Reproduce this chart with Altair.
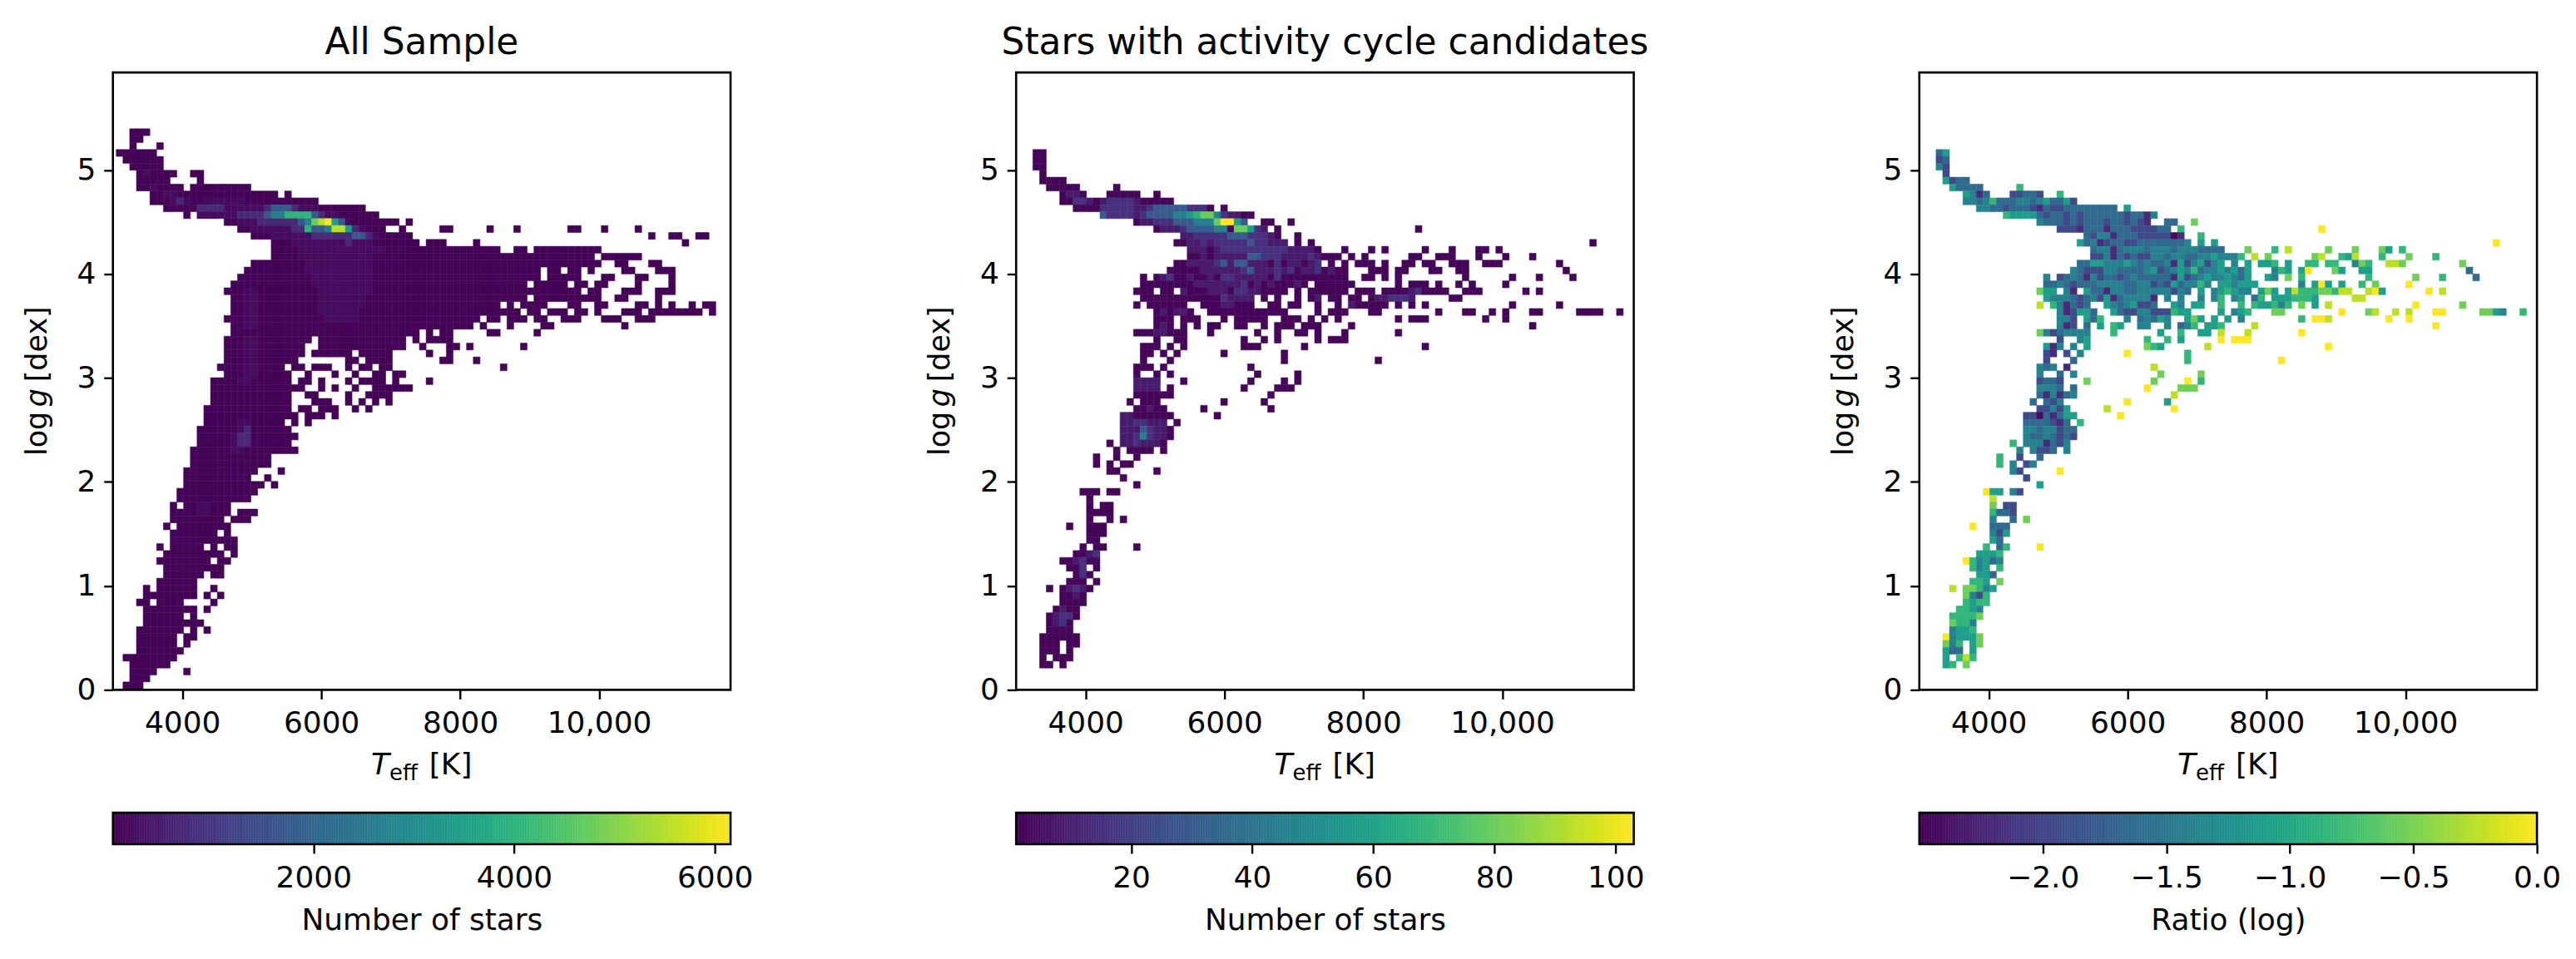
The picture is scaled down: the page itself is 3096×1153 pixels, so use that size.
import altair as alt
import numpy as np
import pandas as pd

FONT = "DejaVu Sans"
TEFF_TICKS = [4000, 6000, 8000, 10000]
LOGG_TICKS = [0, 1, 2, 3, 4, 5]
PANEL_TITLES = ["All Sample", "Stars with activity cycle candidates", ""]
BAR_TITLES = ["Number of stars", "Number of stars", "Ratio (log)"]
BAR_TICKS = [[2000, 4000, 6000], [20, 40, 60, 80, 100], [-2.0, -1.5, -1.0, -0.5, 0.0]]
BAR_DOMAINS = [[1, 6156], [1, 103], [-2.5, 0.0]]
LEVELS_ALL = [30, 170, 700, 1700, 2650, 3400, 4000, 4750, 5500, 6150]
LEVELS_CYCLE = [2, 8, 15, 30, 45, 57, 67, 80, 92, 103]
LEVELS_RATIO = [-2.45, -2.2, -1.95, -1.65, -1.4, -1.1, -0.85, -0.55, -0.25, 0.0]
TEFF_START, TEFF_STEP_ALL, TEFF_STEP_CYCLE = 3047.6, 97.0, 96.6
LOGG_START, LOGG_STEP = 0.01, 0.0665

# occupied Teff bins per logg bin (row: [(first, last), ...]), all-sample histogram
ALL_RUNS = {
80:[(2,4)],79:[(2,3)],78:[(2,2),(6,6)],77:[(0,5)],76:[(1,6)],75:[(2,6)],74:[(3,8),(11,12)],73:[(3,7),(12,12)],
72:[(3,9),(11,19)],71:[(5,23),(25,25)],70:[(5,29)],69:[(7,36)],68:[(10,10),(12,38)],67:[(16,41),(43,43)],
66:[(18,39),(42,42),(48,49),(55,55),(59,59),(67,68),(72,72),(77,77)],65:[(20,43),(79,79),(82,83),(86,87)],
64:[(23,44),(46,48),(53,53),(84,84)],63:[(23,56),(59,60),(62,71)],62:[(23,70),(72,77)],61:[(20,71),(74,75),(79,80)],
60:[(19,62),(64,65),(67,68),(70,70),(75,76),(80,82)],
59:[(18,62),(64,68),(72,73),(77,78),(82,82)],
58:[(17,60),(62,66),(68,69),(71,72),(77,77),(82,82)],
57:[(16,68),(70,71),(75,77),(80,82)],
56:[(17,60),(62,71),(74,75),(80,80)],
55:[(17,56),(58,58),(60,63),(67,68),(71,72),(77,78),(80,80),(82,82),(85,85),(87,88)],
54:[(17,59),(61,62),(64,66),(68,69),(71,71),(75,77),(79,86),(88,88)],
53:[(16,53),(55,56),(58,60),(62,63),(66,68),(72,74),(77,79)],
52:[(17,52),(54,54),(58,58),(63,64),(75,75)],
51:[(17,44),(46,46),(48,49),(55,56),(62,62)],
50:[(16,28),(30,42),(44,44),(46,49)],
49:[(16,27),(30,42),(45,45),(49,50),(52,52),(60,60)],
48:[(16,27),(29,34),(36,40),(46,46),(49,49)],
47:[(16,26),(34,35),(37,40),(48,49),(53,53)],
46:[(15,24),(26,27),(29,31),(34,34),(36,37),(39,40),(57,57)],
45:[(16,25),(28,28),(32,32),(35,35),(38,39),(41,42)],
44:[(14,25),(27,28),(30,30),(34,34),(36,39),(41,41),(46,46)],
43:[(14,27),(30,30),(32,32),(35,35),(38,43)],
42:[(14,25),(28,29),(34,34),(37,40)],
41:[(14,25),(29,31),(34,34),(36,36),(38,38),(40,40)],
40:[(13,25),(27,28),(30,32),(35,35),(37,37)],
39:[(13,26),(28,30),(32,32)],
38:[(13,24),(26,26),(28,28)],
37:[(12,25)],36:[(12,26)],35:[(12,25)],34:[(11,26)],33:[(11,22)],32:[(11,22)],31:[(10,20),(24,24)],
30:[(10,19),(22,22)],29:[(10,21),(23,23)],28:[(9,20)],27:[(9,19)],26:[(8,8),(10,16)],25:[(8,16),(18,20)],
24:[(8,15),(17,19)],23:[(7,7),(9,16)],22:[(8,14),(16,16)],21:[(8,17)],20:[(6,6),(8,12),(14,14),(16,17)],
19:[(7,15),(17,17)],18:[(6,13),(15,16)],17:[(7,15)],16:[(7,12),(14,15)],15:[(6,11)],14:[(4,4),(6,11),(14,14)],
13:[(4,11),(13,13),(15,15)],12:[(3,4),(6,9),(14,14)],11:[(4,11),(13,13)],10:[(4,9),(11,11)],9:[(4,12)],
8:[(3,9),(11,11),(13,13)],7:[(3,8),(10,11)],6:[(3,8),(10,10)],5:[(3,9)],4:[(1,8)],3:[(2,7)],2:[(2,5),(10,10)],
1:[(2,4)],0:[(1,3)],
}

# brighter cells of the all-sample histogram (row: [(first bin, level digits), ...])
ALL_HOT = {
74:[(4,"1")],72:[(5,"1")],71:[(7,"11")],70:[(8,"121"),(13,"111111")],
69:[(12,"222211111123332111")],
68:[(12,"11111"),(17,"1222234466663211")],
67:[(18,"11122222234789531")],
66:[(20,"11111122633488521")],
65:[(23,"1111112222223321")],
64:[(26,"111111112111")],63:[(27,"1111111111111")],62:[(27,"11111111111")],
61:[(28,"1111111111")],60:[(28,"1111111111")],59:[(29,"111111111")],58:[(29,"111111111")],
57:[(19,"11"),(30,"11111111")],56:[(19,"11"),(30,"1111111")],55:[(19,"11"),(30,"1111111")],54:[(19,"11"),(30,"111111")],
53:[(19,"11"),(31,"11111")],52:[(19,"11")],50:[(19,"11")],49:[(19,"11")],48:[(19,"11")],47:[(19,"11")],
46:[(19,"11")],45:[(19,"11")],44:[(18,"11")],38:[(18,"11")],37:[(18,"12")],36:[(17,"122")],35:[(17,"122")],
34:[(17,"11")],26:[(12,"11")],25:[(12,"11")],
}

# ratio levels per logg bin; the candidate histogram occupies the same bins
RATIO_CELLS = {
77:[(2,"35")],76:[(2,"23")],75:[(2,"42")],74:[(3,"2")],73:[(3,"5233")],72:[(4,"53333"),(14,"6")],
71:[(6,"5413"),(13,"22332"),(20,"6")],
70:[(6,"44346333443453352")],
69:[(8,"443323332132233333333"),(30,"5")],
68:[(12,"65555323323233333323314")],
67:[(17,"43332323332332321"),(36,"33"),(40,"7")],
66:[(20,"22213331333222233"),(38,"6"),(59,"9")],
65:[(24,"324413332222201"),(41,"6")],
64:[(23,"53412332233333334"),(41,"5"),(43,"5"),(85,"9")],
63:[(25,"34413444344434443333"),(48,"7"),(52,"6"),(54,"8"),(60,"7"),(64,"7"),(68,"75"),(71,"6")],
62:[(25,"22413232244344334454446"),(49,"8"),(51,"7"),(58,"78"),(62,"658"),(68,"6"),(72,"7"),(76,"6")],
61:[(23,"3355444543433415245245"),(46,"4"),(48,"5"),(50,"556"),(54,"5"),(57,"66"),(60,"66"),(64,"476"),(69,"887"),(80,"7")],
60:[(22,"432224433334523454634454535"),(52,"465"),(56,"59"),(61,"75"),(65,"55"),(81,"3")],
59:[(18,"4"),(20,"23431423323433333152345445435"),(51,"54"),(54,"7"),(56,"6"),(66,"6"),(73,"7"),(77,"6"),(82,"3")],
58:[(18,"3343233344443344232534464"),(44,"554555"),(56,"4"),(58,"595"),(62,"5"),(65,"6"),(67,"7"),(72,"9")],
57:[(17,"755"),(21,"41"),(24,"5331443344444243"),(41,"5"),(43,"456544"),(50,"575"),(54,"5866677688"),(66,"895"),(75,"9"),(77,"8")],
56:[(18,"54443234251344441"),(36,"4"),(38,"4"),(41,"4"),(43,"46"),(46,"45"),(49,"36"),(52,"5556665"),(64,"88")],
55:[(17,"8"),(19,"641323"),(27,"54345223"),(37,"54"),(40,"55"),(44,"6"),(47,"6"),(49,"655646"),(56,"7"),(58,"5"),(60,"8"),(73,"9"),(80,"7")],
54:[(20,"412553"),(28,"532244222655"),(44,"5"),(46,"456"),(52,"77"),(62,"9"),(66,"78"),(70,"8"),(72,"8"),(76,"99"),(83,"7754"),(89,"6")],
53:[(20,"442"),(24,"536"),(30,"4"),(32,"34354"),(39,"575"),(43,"5"),(45,"5"),(47,"4"),(56,"6"),(58,"998"),(69,"9"),(72,"9")],
52:[(20,"412"),(24,"3"),(26,"5"),(28,"65"),(32,"44"),(36,"4"),(38,"346"),(42,"556"),(49,"8"),(76,"9")],
51:[(17,"74234444"),(28,"6"),(35,"5"),(38,"6"),(41,"55"),(44,"8"),(48,"8"),(56,"9")],
50:[(20,"2"),(23,"45"),(33,"6"),(36,"6"),(38,"5"),(44,"9"),(46,"999")],
49:[(18,"514"),(22,"4"),(24,"5"),(33,"765"),(42,"8"),(60,"9")],
48:[(18,"21"),(21,"2"),(23,"4"),(30,"9"),(39,"6")],
47:[(18,"2"),(22,"3"),(39,"6"),(53,"9")],
46:[(17,"434"),(21,"1"),(34,"8")],
45:[(17,"4"),(20,"3"),(22,"4"),(35,"7"),(41,"7")],
44:[(17,"2332"),(24,"7"),(34,"7"),(39,"9"),(41,"6")],
43:[(17,"4443"),(22,"3"),(33,"9"),(38,"777")],
42:[(17,"314134"),(37,"8")],
41:[(16,"3"),(18,"324"),(30,"9"),(36,"5")],
40:[(17,"22425"),(27,"8"),(37,"9")],
39:[(15,"22031355"),(29,"9")],
38:[(15,"3333213"),(23,"6")],
37:[(15,"44344233")],36:[(15,"43343232")],35:[(13,"6"),(15,"4441324")],
34:[(14,"4"),(16,"4223"),(21,"4")],33:[(11,"6"),(14,"2"),(17,"3")],32:[(11,"6"),(13,"4"),(15,"24")],
31:[(13,"42"),(20,"9")],30:[(15,"2")],29:[(17,"5")],28:[(9,"955"),(13,"42")],27:[(10,"8")],26:[(10,"7"),(12,"22")],
25:[(10,"6332")],24:[(10,"4"),(13,"3"),(15,"7")],23:[(7,"9"),(10,"333")],22:[(10,"425")],21:[(10,"53")],
20:[(9,"6"),(11,"36"),(17,"9")],19:[(8,"5556")],18:[(6,"964534")],17:[(7,"645"),(11,"6")],16:[(8,"553")],
15:[(7,"665"),(11,"7")],14:[(4,"8"),(6,"77645")],13:[(6,"7426")],12:[(6,"6566")],11:[(5,"6654")],10:[(4,"66667")],
9:[(4,"7664")],8:[(4,"4556")],7:[(3,"945557")],6:[(3,"746"),(7,"57")],5:[(3,"533"),(7,"5")],4:[(3,"5"),(5,"686")],
3:[(3,"56"),(6,"7")],
}

# brighter cells of the candidate histogram
CYCLE_HOT = {
71:[(7,"11")],70:[(8,"221"),(12,"122221")],69:[(12,"222221"),(18,"12"),(20,"33333"),(25,"222")],
68:[(12,"32222123333"),(23,"44"),(25,"5677421100")],
67:[(18,"11222333"),(26,"444"),(29,"79953")],
66:[(21,"111"),(24,"2333344"),(32,"775"),(35,"21")],
65:[(24,"11222223332221")],
64:[(25,"1121222223"),(35,"22111")],
63:[(25,"11101222222222211110")],
62:[(27,"1"),(29,"11111"),(34,"33222111121")],
61:[(25,"11112313311"),(36,"1"),(38,"2"),(40,"11"),(43,"12")],
60:[(27,"111111"),(33,"2311121"),(40,"2"),(42,"112"),(46,"1")],
59:[(21,"12"),(25,"1"),(28,"1"),(30,"2211111"),(38,"2")],
58:[(26,"11111112"),(35,"1"),(37,"1"),(41,"1")],
57:[(24,"1"),(28,"111"),(32,"2211"),(58,"12")],
56:[(30,"21111"),(44,"1"),(53,"112222"),(58,"1")],
55:[(30,"11"),(49,"1")],54:[(21,"1"),(23,"11")],52:[(21,"1")],51:[(20,"11")],44:[(17,"1111")],43:[(17,"1111")],
40:[(19,"1")],39:[(15,"11")],38:[(15,"1122111")],37:[(15,"1113211")],36:[(15,"1124211")],35:[(15,"112111")],
19:[(10,"12")],18:[(8,"12")],17:[(9,"2")],16:[(9,"2")],14:[(7,"121")],13:[(8,"1")],11:[(6,"1")],10:[(5,"122")],9:[(5,"12")],
}


def expand(cells):
    out = {}
    for row, segments in cells.items():
        for first, digits in segments:
            for k, ch in enumerate(digits):
                if ch.isdigit():
                    out[(row, first + k)] = int(ch)
    return out


def frame_for(step, items):
    rows = []
    for (row, col), value in items:
        rows.append({
            "t0": TEFF_START + step * col,
            "t1": TEFF_START + step * (col + 1),
            "g0": LOGG_START + LOGG_STEP * row,
            "g1": LOGG_START + LOGG_STEP * (row + 1),
            "v": value,
        })
    return pd.DataFrame(rows)


hot_all = expand(ALL_HOT)
all_items = []
for row, runs in ALL_RUNS.items():
    for first, last in runs:
        for col in range(first, last + 1):
            all_items.append(((row, col), LEVELS_ALL[hot_all.get((row, col), 0)]))

ratio_cells = expand(RATIO_CELLS)
hot_cycle = expand(CYCLE_HOT)
cycle_items = [(k, LEVELS_CYCLE[hot_cycle.get(k, 0)]) for k in ratio_cells]
ratio_items = [(k, LEVELS_RATIO[d]) for k, d in ratio_cells.items()]

FRAMES = [frame_for(TEFF_STEP_ALL, all_items), frame_for(TEFF_STEP_CYCLE, cycle_items), frame_for(TEFF_STEP_CYCLE, ratio_items)]

W, H, BAR_H = 744, 744, 38
LABEL_SIZE = 36


def text(label, x, y, size=36, style="normal", angle=0):
    return alt.Chart(alt.Data(values=[{"a": 1}])).mark_text(
        text=label, font=FONT, fontSize=size, fontStyle=style, align="left",
        baseline="alphabetic", angle=angle, color="black",
    ).encode(x=alt.value(x), y=alt.value(y))


def spine(h):
    return alt.Chart(alt.Data(values=[{"a": 1}])).mark_rect(
        fill="transparent", stroke="black", strokeWidth=2.6
    ).encode(x=alt.value(0), x2=alt.value(W), y=alt.value(0), y2=alt.value(h))


def panel(i):
    dom = BAR_DOMAINS[i]
    cscale = alt.Scale(scheme="viridis", domain=dom)
    heat = alt.Chart(FRAMES[i]).mark_rect(strokeWidth=0.5).encode(
        x=alt.X("t0:Q", scale=alt.Scale(domain=[3000, 11893], nice=False, zero=False),
                axis=alt.Axis(values=TEFF_TICKS, title=None, grid=False, domain=False, tickColor="black",
                              tickSize=11, tickWidth=2.4, labelFont=FONT, labelFontSize=LABEL_SIZE, labelColor="black",
                              labelPadding=12, labelFlush=False, labelOverlap=False,
                              labelExpr="datum.value >= 10000 ? format(datum.value, ',') : format(datum.value, 'd')")),
        x2="t1:Q",
        y=alt.Y("g0:Q", scale=alt.Scale(domain=[0, 5.938], nice=False, zero=False),
                axis=alt.Axis(values=LOGG_TICKS, title=None, grid=False, domain=False, tickColor="black",
                              tickSize=11, tickWidth=2.4, labelFont=FONT, labelFontSize=LABEL_SIZE, labelColor="black",
                              labelPadding=10, labelFlush=False, labelOverlap=False, format="d")),
        y2="g1:Q",
        color=alt.Color("v:Q", scale=cscale, legend=None),
        stroke=alt.Stroke("v:Q", scale=cscale, legend=None),
    )
    layers = [
        heat,
        text("T", 311, 846, style="italic"),
        text("eff", 333, 853, size=26),
        text("[K]", 381, 846),
        text("log", -80, 462, size=35, angle=270),
        text("g", -80, 403, size=35, style="italic", angle=270),
        text("[dex]", -80, 373, size=35, angle=270),
        spine(H),
    ]
    top = alt.layer(*layers).properties(width=W, height=H)
    if PANEL_TITLES[i]:
        top = top.properties(title=alt.TitleParams(PANEL_TITLES[i], font=FONT, fontSize=44, fontWeight="normal",
                                                  color="black", offset=12))
    vals = np.linspace(dom[0], dom[1], 256)
    ramp = pd.DataFrame({"v": vals[:-1], "v2": vals[1:]})
    bar = alt.Chart(ramp).mark_rect(strokeWidth=0.5).encode(
        x=alt.X("v:Q", scale=alt.Scale(domain=dom, nice=False, zero=False),
                axis=alt.Axis(values=BAR_TICKS[i], title=BAR_TITLES[i], grid=False, domain=False, tickColor="black",
                              tickSize=11, tickWidth=2.4, labelFont=FONT, labelFontSize=LABEL_SIZE, labelColor="black",
                              labelPadding=13, labelFlush=False, labelOverlap=False, titleFont=FONT, titleFontSize=LABEL_SIZE,
                              titleFontWeight="normal", titleColor="black", titlePadding=16,
                              format=(".1f" if i == 2 else "d"))),
        x2="v2:Q",
        color=alt.Color("v:Q", scale=cscale, legend=None),
        stroke=alt.Stroke("v:Q", scale=cscale, legend=None),
    )
    bottom = alt.layer(bar, spine(BAR_H)).properties(width=W, height=BAR_H)
    return alt.vconcat(top, bottom, spacing=148, bounds="flush").resolve_scale(color="independent", stroke="independent")


chart = alt.hconcat(panel(0), panel(1), panel(2), spacing=1088, bounds="flush").resolve_scale(
    color="independent", stroke="independent"
).properties(padding={"left": 20, "top": 20, "right": 10, "bottom": 10}).configure_view(stroke=None)

chart.save("out.html", embed_options={"renderer": "svg", "actions": False})
